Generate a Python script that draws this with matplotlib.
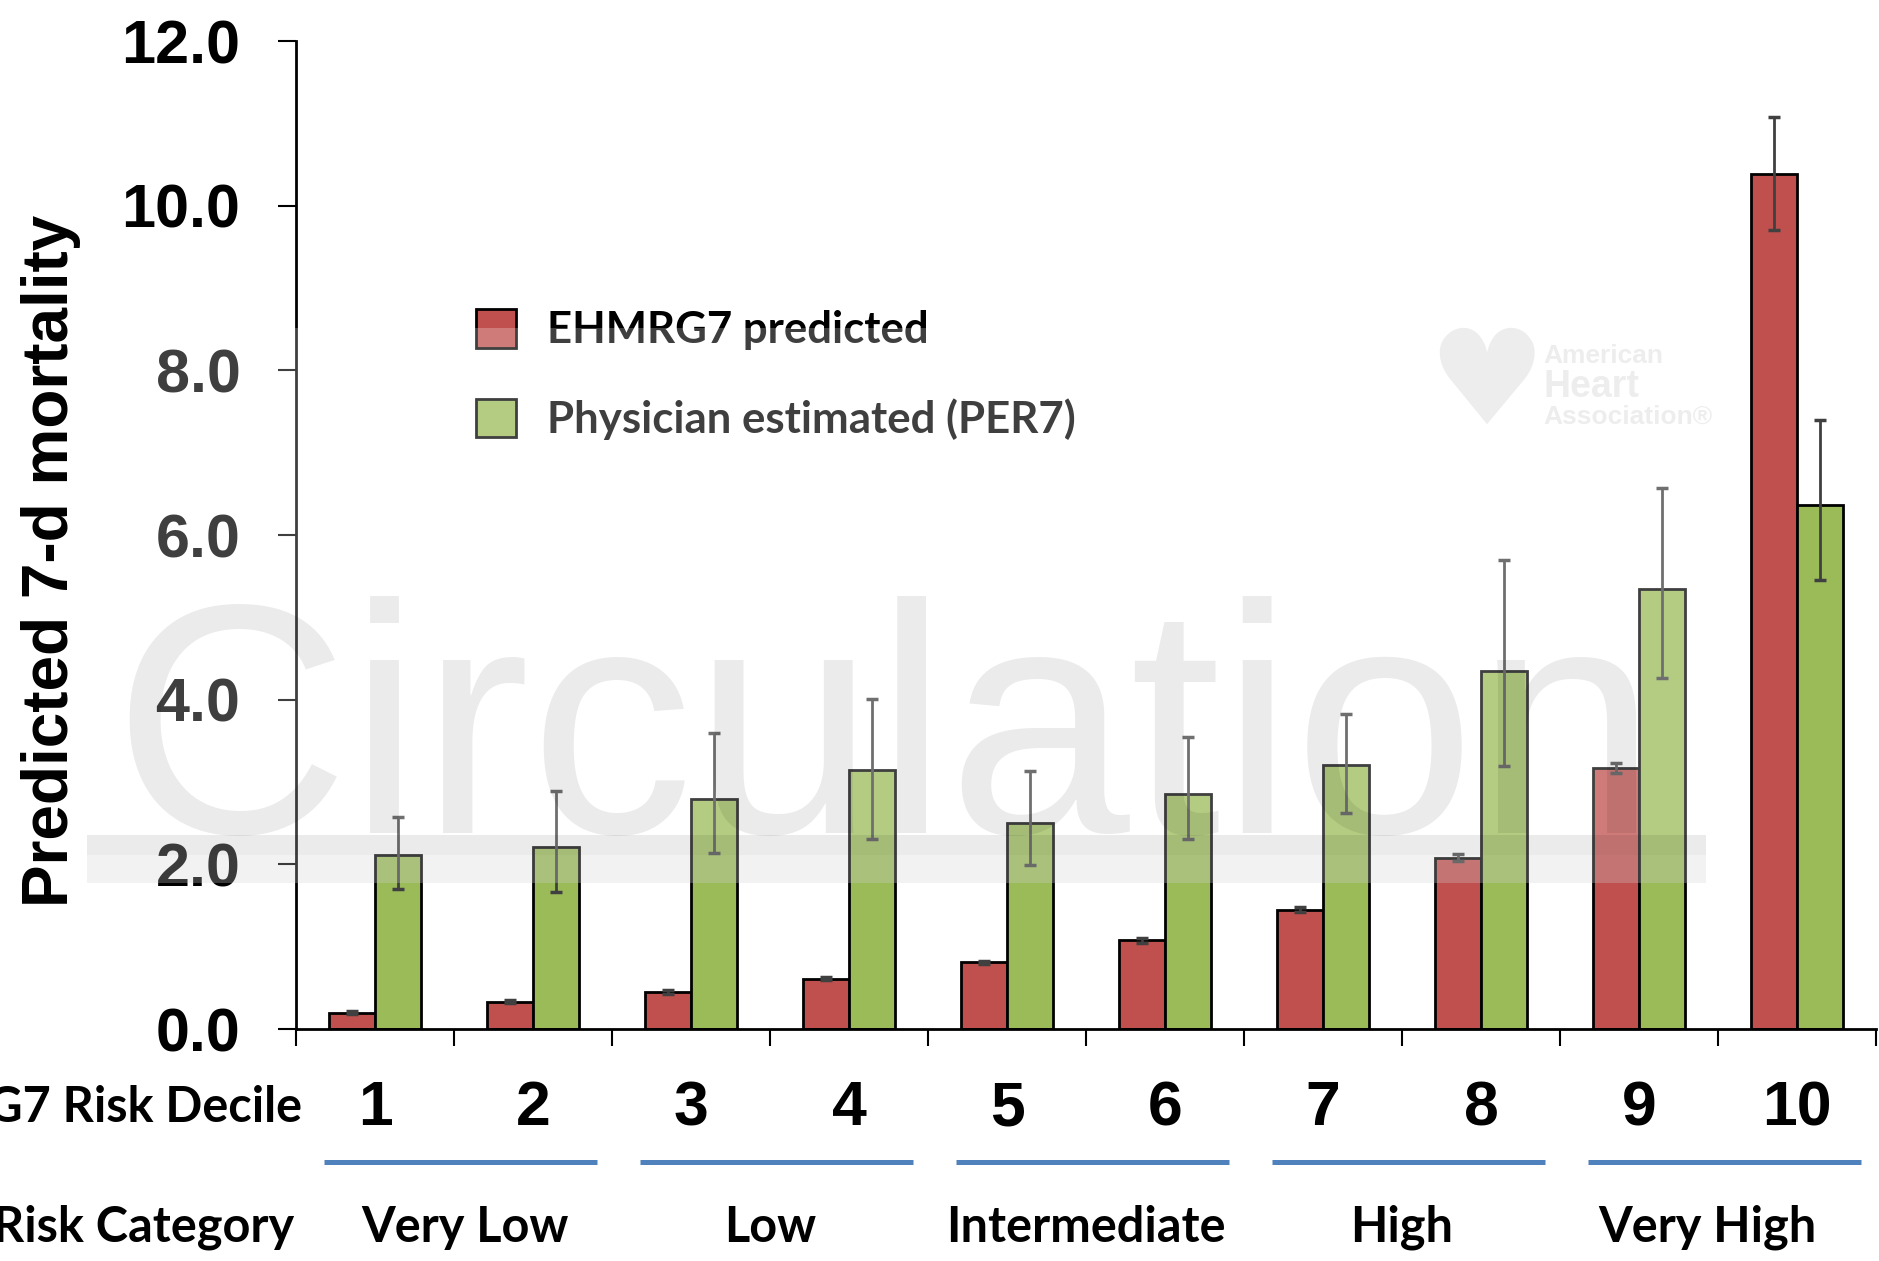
import matplotlib
matplotlib.use("Agg")
import matplotlib.pyplot as plt
import numpy as np
from matplotlib import font_manager
from matplotlib.patches import Rectangle
from matplotlib.lines import Line2D
from matplotlib.transforms import blended_transform_factory

# data
deciles = ["1", "2", "3", "4", "5", "6", "7", "8", "9", "10"]
categories = ["Very Low", "Low", "Intermediate", "High", "Very High"]
ehmrg7 = [0.20, 0.33, 0.45, 0.61, 0.81, 1.08, 1.45, 2.08, 3.17, 10.39]
ehmrg7_err = [0.02, 0.02, 0.02, 0.02, 0.02, 0.03, 0.03, 0.04, 0.06, 0.69]
per7 = [2.11, 2.21, 2.79, 3.14, 2.50, 2.85, 3.21, 4.35, 5.35, 6.37]
per7_lo = [1.70, 1.67, 2.14, 2.31, 1.99, 2.31, 2.62, 3.19, 4.26, 5.45]
per7_hi = [2.57, 2.89, 3.59, 4.01, 3.13, 3.55, 3.83, 5.70, 6.57, 7.40]

W, H = 1879, 1261
names = {f.name for f in font_manager.fontManager.ttflist}
arial = "Liberation Sans"
calibri = "Lato" if "Lato" in names else "DejaVu Sans"

fig = plt.figure(figsize=(W / 100, H / 100), dpi=100)
ax = fig.add_axes([296 / W, 1 - 1029 / H, (1876 - 296) / W, (1029 - 41) / H])

x = np.arange(len(deciles))
w = 0.288
ax.bar(x - w / 2, ehmrg7, w, color="#C0504D", edgecolor="black", linewidth=2,
       label="EHMRG7 predicted", zorder=2)
ax.bar(x + w / 2, per7, w, color="#9BBB59", edgecolor="black", linewidth=2,
       label="Physician estimated (PER7)", zorder=2)
ax.errorbar(x - w / 2, ehmrg7, yerr=ehmrg7_err, fmt="none", ecolor="#404040",
            elinewidth=2, capsize=4.3, capthick=2.5, zorder=3)
per7_a = np.array(per7)
ax.errorbar(x + w / 2, per7, yerr=[per7_a - np.array(per7_lo), np.array(per7_hi) - per7_a],
            fmt="none", ecolor="#404040", elinewidth=2, capsize=4.3, capthick=2.5, zorder=3)

ax.set_xlim(-0.5, 9.5)
ax.set_ylim(0, 12)
for s in ["top", "right"]:
    ax.spines[s].set_visible(False)
for s in ["left", "bottom"]:
    ax.spines[s].set_linewidth(2)

yt = np.arange(0, 13, 2)
ax.set_yticks(yt)
ax.set_yticklabels([f"{v:.1f}" for v in yt], fontsize=44, fontweight="bold", family=arial)
ax.tick_params(axis="y", direction="out", length=13, width=1.5, pad=27)

ax.set_xticks(x)
ax.set_xticklabels(deciles, fontsize=45, fontweight="bold", family=arial)
ax.set_xticks(np.arange(-0.5, 10, 1), minor=True)
ax.tick_params(axis="x", which="major", length=0, pad=36)
ax.tick_params(axis="x", which="minor", length=12, width=1.5, direction="out")

ax.set_ylabel("Predicted 7-d mortality", fontsize=46, fontweight="bold", family=arial)
ax.yaxis.set_label_coords(81 / W, 1 - 561 / H, transform=fig.transFigure)

leg = ax.legend(loc="upper left", bbox_to_anchor=(476 / W, 1 - 309 / H),
                bbox_transform=fig.transFigure, frameon=False, borderpad=0,
                borderaxespad=0, handlelength=0.92, handleheight=0.98,
                handletextpad=0.7, labelspacing=1.1,
                prop={"family": calibri, "weight": "bold", "size": 31.5})

# row labels under the axis
fig.text(302 / W, 1 - 1122 / H, "EHMRG7 Risk Decile", ha="right", va="baseline",
         fontsize=35, fontweight="bold", family=calibri)
fig.text(294 / W, 1 - 1242 / H, "Risk Category", ha="right", va="baseline",
         fontsize=35, fontweight="bold", family=calibri)

bt = blended_transform_factory(ax.transData, fig.transFigure)
label_shift = [0.07, 0.0, 0.0, 0.0, -0.07]
for i, cat in enumerate(categories):
    c = 2 * i + 0.5
    fig.add_artist(Line2D([c - 0.825, c + 0.905], [1 - 1162 / H] * 2, transform=bt,
                          color="#4F81BD", linewidth=3.6, solid_capstyle="butt"))
    fig.text(c + label_shift[i], 1 - 1242 / H, cat, transform=bt, ha="center",
             va="baseline", fontsize=35, fontweight="bold", family=calibri)

# journal watermark drawn over the plot
fig.add_artist(Rectangle((87 / W, 1 - 883 / H), (1706 - 87) / W, (883 - 328) / H,
                         transform=fig.transFigure, facecolor="white", alpha=0.25,
                         edgecolor="none", zorder=10))
fig.add_artist(Rectangle((87 / W, 1 - 855 / H), (1706 - 87) / W, 20 / H,
                         transform=fig.transFigure, facecolor="black", alpha=0.08,
                         edgecolor="none", zorder=11))
fig.add_artist(Rectangle((87 / W, 1 - 883 / H), (1706 - 87) / W, 28 / H,
                         transform=fig.transFigure, facecolor="black", alpha=0.05,
                         edgecolor="none", zorder=11))
wm = fig.text(112 / W, 1 - 833 / H, "Circulation", ha="left", va="baseline",
              fontsize=236, family=arial, color="black", alpha=0.08, zorder=12)
r = fig.canvas.get_renderer()
ext = wm.get_window_extent(r)
wm.set_fontsize(236 * 1545 / ext.width)

fig.text(1486 / W, 1 - 388 / H, "\u2665", ha="center", va="center", fontsize=95,
         family="DejaVu Sans", color="black", alpha=0.07, zorder=12)
fig.text(1543 / W, 1 - 356 / H, "American", ha="left", va="center", fontsize=19,
         fontweight="bold", family=arial, color="black", alpha=0.07, zorder=12)
fig.text(1543 / W, 1 - 387 / H, "Heart", ha="left", va="center", fontsize=27,
         fontweight="bold", family=arial, color="black", alpha=0.07, zorder=12)
fig.text(1543 / W, 1 - 417 / H, "Association\u00ae", ha="left", va="center", fontsize=19,
         fontweight="bold", family=arial, color="black", alpha=0.07, zorder=12)

fig.savefig("out.png", dpi=100)
